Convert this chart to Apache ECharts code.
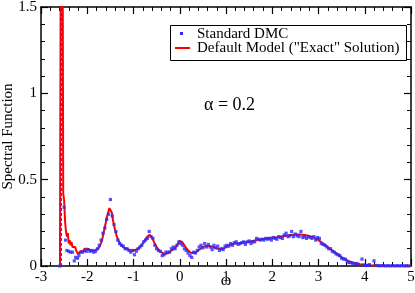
<!DOCTYPE html>
<html><head><meta charset="utf-8">
<script src="https://cdn.jsdelivr.net/npm/echarts@6/dist/echarts.min.js"></script>
<style>html,body{margin:0;padding:0;background:#fff}#c{width:415px;height:293px}</style>
</head><body><div id="c"></div>
<script>
var xTicks = [-3,-2,-1,0,1,2,3,4,5];
var yTicks = [0,0.5,1,1.5];
var legendNames = ['Standard DMC','Default Model ("Exact" Solution)'];
var annotation = 'α = 0.2';

// Default model ("Exact" solution) red curve: [omega, A]
var exactCurve = [
[-2.59,0],[-2.575,1.6],[-2.53,1.6],[-2.52,0.42],[-2.5,0.38],[-2.48,0.26],[-2.46,0.2],[-2.44,0.17],[-2.42,0.19],[-2.4,0.13],
[-2.38,0.15],[-2.36,0.12],[-2.34,0.14],[-2.32,0.11],[-2.3,0.12],[-2.28,0.1],[-2.26,0.11],[-2.24,0.09],[-2.22,0.08],[-2.2,0.07],
[-2.18,0.08],[-2.16,0.07],[-2.14,0.085],[-2.12,0.08],[-2.1,0.09],[-2.08,0.085],[-2.06,0.1],[-2.04,0.09],[-2.02,0.095],[-2.0,0.1],
[-1.96,0.095],[-1.92,0.09],[-1.88,0.095],[-1.84,0.09],[-1.8,0.095],[-1.76,0.1],[-1.72,0.12],[-1.68,0.15],[-1.64,0.2],[-1.6,0.25],
[-1.56,0.3],[-1.52,0.335],[-1.5,0.34],[-1.47,0.31],[-1.44,0.26],[-1.4,0.21],[-1.36,0.17],[-1.32,0.145],[-1.28,0.125],[-1.24,0.115],
[-1.2,0.105],[-1.15,0.1],[-1.1,0.095],[-1.05,0.09],[-1.0,0.09],[-0.95,0.095],[-0.9,0.1],[-0.85,0.115],[-0.8,0.13],[-0.75,0.15],
[-0.7,0.17],[-0.65,0.18],[-0.6,0.165],[-0.55,0.135],[-0.5,0.11],[-0.45,0.09],[-0.4,0.08],[-0.35,0.072],[-0.3,0.07],[-0.25,0.075],
[-0.2,0.085],[-0.15,0.095],[-0.1,0.105],[-0.05,0.125],[0,0.145],[0.05,0.14],[0.1,0.12],[0.15,0.1],[0.2,0.085],[0.25,0.075],
[0.3,0.075],[0.35,0.08],[0.4,0.09],[0.45,0.1],[0.5,0.11],[0.55,0.115],[0.6,0.117],[0.65,0.115],[0.7,0.112],[0.75,0.107],
[0.8,0.102],[0.85,0.1],[0.9,0.1],[0.95,0.103],[1.0,0.108],[1.05,0.117],[1.1,0.124],[1.2,0.13],[1.3,0.132],[1.4,0.136],
[1.5,0.14],[1.6,0.146],[1.7,0.152],[1.8,0.157],[1.9,0.161],[2.0,0.164],[2.1,0.167],[2.2,0.171],[2.3,0.175],[2.4,0.179],
[2.5,0.182],[2.6,0.183],[2.7,0.18],[2.8,0.174],[2.9,0.166],[3.0,0.15],[3.1,0.13],[3.2,0.11],[3.3,0.09],[3.4,0.07],
[3.5,0.05],[3.6,0.035],[3.7,0.024],[3.8,0.015],[3.9,0.01],[4.0,0.007],[4.1,0.005],[4.2,0.003],[4.4,0.001],[5.0,0]
];

// Standard DMC blue points: [omega, A]
var dmcPoints = [
[-2.59,0],[-2.5,0.34],[-2.47,0.15],[-2.44,0.09],[-2.4,0.085],[-2.36,0.08],[-2.32,0.08],[-2.28,0.03],[-2.25,0.05],[-2.21,0.045],
[-2.18,0.06],[-2.14,0.08],[-2.1,0.08],[-2.06,0.09],[-2.02,0.085],[-1.98,0.095],[-1.94,0.085],[-1.9,0.09],[-1.86,0.08],[-1.82,0.085],
[-1.78,0.1],[-1.74,0.12],[-1.7,0.15],[-1.66,0.19],[-1.62,0.22],[-1.58,0.27],[-1.54,0.3],[-1.5,0.385],[-1.46,0.29],[-1.42,0.24],
[-1.38,0.2],[-1.34,0.15],[-1.3,0.13],[-1.26,0.12],[-1.22,0.115],[-1.18,0.1],[-1.14,0.1],[-1.1,0.09],[-1.06,0.08],[-1.02,0.09],
[-0.98,0.065],[-0.94,0.085],[-0.9,0.1],[-0.86,0.11],[-0.82,0.12],[-0.78,0.14],[-0.74,0.15],[-0.7,0.16],[-0.66,0.2],[-0.62,0.17],
[-0.58,0.16],[-0.54,0.12],[-0.5,0.1],[-0.46,0.09],[-0.42,0.085],[-0.38,0.06],[-0.34,0.065],[-0.3,0.08],[-0.26,0.08],[-0.22,0.08],
[-0.18,0.1],[-0.14,0.11],[-0.1,0.1],[-0.06,0.12],[-0.02,0.14],[0.02,0.13],[0.06,0.12],[0.1,0.1],[0.14,0.09],[0.18,0.075],
[0.22,0.06],[0.26,0.05],[0.3,0.08],[0.34,0.075],[0.38,0.09],[0.42,0.11],[0.46,0.12],[0.5,0.105],[0.54,0.13],[0.58,0.11],
[0.62,0.125],[0.66,0.11],[0.7,0.095],[0.74,0.12],[0.78,0.105],[0.82,0.115],[0.86,0.09],[0.9,0.1],[0.94,0.095],[0.98,0.115],
[1.02,0.12],[1.06,0.115],[1.1,0.13],[1.14,0.12],[1.18,0.135],[1.22,0.14],[1.26,0.125],[1.3,0.13],[1.34,0.135],[1.38,0.14],
[1.42,0.125],[1.46,0.14],[1.5,0.145],[1.54,0.13],[1.58,0.14],[1.62,0.14],[1.66,0.16],[1.7,0.155],[1.74,0.15],[1.78,0.155],
[1.82,0.15],[1.86,0.16],[1.9,0.155],[1.94,0.16],[1.98,0.15],[2.02,0.165],[2.06,0.16],[2.1,0.155],[2.14,0.17],[2.18,0.165],
[2.22,0.16],[2.26,0.18],[2.3,0.19],[2.34,0.17],[2.38,0.175],[2.42,0.2],[2.46,0.17],[2.5,0.185],[2.54,0.175],[2.58,0.17],
[2.62,0.2],[2.66,0.165],[2.7,0.17],[2.74,0.16],[2.78,0.17],[2.82,0.165],[2.86,0.16],[2.9,0.17],[2.94,0.15],[2.98,0.165],
[3.02,0.16],[3.06,0.13],[3.1,0.125],[3.14,0.12],[3.18,0.11],[3.22,0.1],[3.26,0.1],[3.3,0.085],[3.34,0.08],[3.38,0.07],
[3.42,0.065],[3.46,0.06],[3.5,0.045],[3.54,0.04],[3.58,0.04],[3.62,0.025],[3.66,0.02],[3.7,0.02],[3.74,0.015],[3.78,0.01],
[3.82,0.015],[3.86,0.01],[3.94,0.04],[3.98,0.005],[4.02,0.003],[4.06,0.003],[4.1,0.008],[4.2,0.03],[4.25,0.003],[4.3,0.002],
[4.35,0.002],[4.4,0.002],[4.45,0.001],[4.5,0.002],[4.55,0.001],[4.6,0.002],[4.65,0.001],[4.7,0.002],[4.75,0.001],[4.8,0.002],
[4.85,0.001],[4.9,0.002],[4.95,0.001]
];
// Blue DMC spike at the ground-state energy
var dmcSpike = [[-2.56,0],[-2.56,1.6]];

var serif = '"Liberation Serif","DejaVu Serif",serif';
var chart = echarts.init(document.getElementById('c'), null, {renderer:'canvas'});
function xAx(pos, labels){
  return {type:'value', position:pos, min:xTicks[0], max:xTicks[xTicks.length-1], interval:1,
    axisLine:{show:true, onZero:false, lineStyle:{color:'#000', width:1.5}},
    axisTick:{show:true, inside:true, length:7, lineStyle:{color:'#000', width:1.2}},
    minorTick:{show:true, splitNumber:5, length:4, lineStyle:{color:'#000', width:1}},
    splitLine:{show:false},
    axisLabel:{show:labels, color:'#000', fontFamily:serif, fontSize:15, margin:4},
    name: labels ? 'ω' : '', nameLocation:'middle', nameGap:7, nameMoveOverlap:false,
    nameTextStyle:{color:'#000', fontFamily:serif, fontSize:16, verticalAlign:'top'}};
}
function yAx(pos, labels){
  return {type:'value', position:pos, min:yTicks[0], max:yTicks[yTicks.length-1], interval:0.5,
    axisLine:{show:true, onZero:false, lineStyle:{color:'#000', width:1.5}},
    axisTick:{show:true, inside:true, length:7, lineStyle:{color:'#000', width:1.2}},
    minorTick:{show:true, splitNumber:5, length:4, lineStyle:{color:'#000', width:1}},
    splitLine:{show:false},
    axisLabel:{show:labels, color:'#000', fontFamily:serif, fontSize:15, margin:4},
    name: labels ? 'Spectral Function' : '', nameLocation:'middle', nameGap:25, nameMoveOverlap:false,
    nameTextStyle:{color:'#000', fontFamily:serif, fontSize:15}};
}
chart.setOption({
  animation:false,
  backgroundColor:'#fff',
  grid:{left:41, right:4, top:7, bottom:27, containLabel:false, outerBoundsMode:'none'},
  xAxis:[xAx('bottom', true), xAx('top', false)],
  yAxis:[yAx('left', true), yAx('right', false)],
  series:[
    {type:'line', name:'spike', data:dmcSpike, showSymbol:false, clip:true,
     lineStyle:{color:'#2a2aff', width:1.2, type:[3,2]}, z:3},
    {type:'line', name:legendNames[1], data:exactCurve, showSymbol:false, clip:true,
     lineStyle:{color:'#ff0000', width:2}, z:2},
    {type:'scatter', name:legendNames[0], data:dmcPoints, symbol:'rect', symbolSize:3.2,
     itemStyle:{color:'#2a2aff'}, clip:true, z:4}
  ],
  graphic:[
    {type:'rect', shape:{x:170.5, y:25.5, width:236, height:35}, style:{fill:'#fff', stroke:'#000', lineWidth:1}, z:10},
    {type:'rect', shape:{x:180, y:32, width:3, height:3}, style:{fill:'#2a2aff'}, z:11},
    {type:'line', shape:{x1:175, y1:48, x2:190, y2:48}, style:{stroke:'#ff0000', lineWidth:2}, z:11},
    {type:'text', x:197, y:34, style:{text:legendNames[0], font:'15px '+serif, fill:'#000', textVerticalAlign:'middle', verticalAlign:'middle'}, z:11},
    {type:'text', x:197, y:48.5, style:{text:legendNames[1], font:'15px '+serif, fill:'#000', textVerticalAlign:'middle', verticalAlign:'middle'}, z:11},
    {type:'text', x:204, y:105, style:{text:annotation, font:'18px '+serif, fill:'#000', verticalAlign:'middle', textVerticalAlign:'middle'}, z:11}
  ]
});
</script></body></html>
